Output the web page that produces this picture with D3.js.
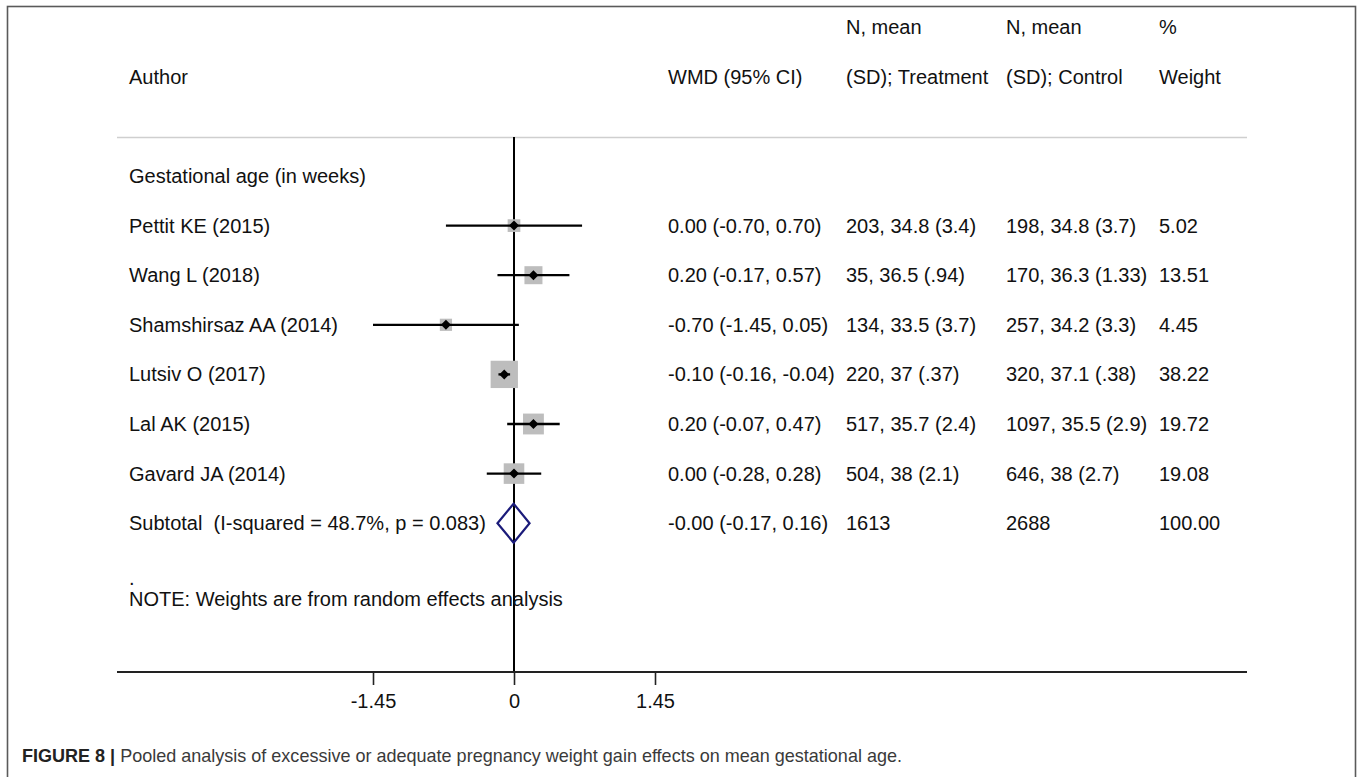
<!DOCTYPE html>
<html>
<head>
<meta charset="utf-8">
<script src="https://cdn.jsdelivr.net/npm/d3@7"></script>
<style>
  html, body { margin: 0; padding: 0; background: #fff; }
  svg { display: block; }
  text { white-space: pre; }
</style>
</head>
<body>
<div id="chart"></div>
<script>
// study data
const authors = ['Pettit KE (2015)', 'Wang L (2018)', 'Shamshirsaz AA (2014)', 'Lutsiv O (2017)', 'Lal AK (2015)', 'Gavard JA (2014)'];
const wmd = [0.00, 0.20, -0.70, -0.10, 0.20, 0.00];
const ciLow = [-0.70, -0.17, -1.45, -0.16, -0.07, -0.28];
const ciHigh = [0.70, 0.57, 0.05, -0.04, 0.47, 0.28];
const treatN = ['203', '35', '134', '220', '517', '504'];
const treatMean = ['34.8', '36.5', '33.5', '37', '35.7', '38'];
const treatSD = ['3.4', '.94', '3.7', '.37', '2.4', '2.1'];
const ctrlN = ['198', '170', '257', '320', '1097', '646'];
const ctrlMean = ['34.8', '36.3', '34.2', '37.1', '35.5', '38'];
const ctrlSD = ['3.7', '1.33', '3.3', '.38', '2.9', '2.7'];
const weights = [5.02, 13.51, 4.45, 38.22, 19.72, 19.08];

// pooled
const subtotal = { label: 'Subtotal  (I-squared = 48.7%, p = 0.083)', est: -0.004, lo: -0.17, hi: 0.16, nT: '1613', nC: '2688', w: 100.00 };
const groupLabel = 'Gestational age (in weeks)';
const noteText = 'NOTE: Weights are from random effects analysis';
const axisTicks = [-1.45, 0, 1.45];
const headTop = ['', '', 'N, mean', 'N, mean', '%'];
const headBottom = ['Author', 'WMD (95% CI)', '(SD); Treatment', '(SD); Control', 'Weight'];
const caption = 'Pooled analysis of excessive or adequate pregnancy weight gain effects on mean gestational age.';

const W = 1357, H = 777;
const svg = d3.select('#chart').append('svg').attr('width', W).attr('height', H);
const font = 'Liberation Sans, Arial, sans-serif';

// frame
svg.append('rect').attr('x', 7.5).attr('y', 6.5).attr('width', 1348).attr('height', 800)
  .attr('fill', 'none').attr('stroke', '#5a5a5a').attr('stroke-width', 1.6);

// scales
const x = d3.scaleLinear().domain([-1.45, 1.45]).range([373, 655]);
const row = d3.scaleLinear().domain([0, 1]).range([176, 225.6]); // row index -> y centre
const boxSize = d3.scaleLinear().domain([0, Math.sqrt(38.22)]).range([4.4, 27.3]);
const colX = [129, 668, 846, 1006, 1159];

const fmt = v => (v < 0 ? '-' : '') + Math.abs(v).toFixed(2);
const txt = (sel, s, xx, yc) => sel.append('text').text(s)
  .attr('x', xx).attr('y', yc + 7)
  .style('font-family', font).style('font-size', '20px').attr('fill', '#111');

// header
headTop.forEach((s, i) => { if (s) txt(svg, s, colX[i], row(-3)); });
headBottom.forEach((s, i) => txt(svg, s, colX[i], row(-2)));
svg.append('line').attr('x1', 117).attr('x2', 1247).attr('y1', 137.5).attr('y2', 137.5)
  .attr('stroke', '#cfcfcf').attr('stroke-width', 1.6);

// null line
svg.append('line').attr('x1', x(0)).attr('x2', x(0)).attr('y1', 137).attr('y2', row(10))
  .attr('stroke', '#000').attr('stroke-width', 2);

txt(svg, groupLabel, colX[0], row(0));

const studies = authors.map((a, i) => ({ a, i, est: wmd[i], lo: ciLow[i], hi: ciHigh[i], w: weights[i] }));

const g = svg.append('g').selectAll('g.study').data(studies).enter().append('g').attr('class', 'study');
g.append('rect')
  .attr('x', d => x(d.est) - boxSize(Math.sqrt(d.w)) / 2)
  .attr('y', d => row(d.i + 1) - boxSize(Math.sqrt(d.w)) / 2)
  .attr('width', d => boxSize(Math.sqrt(d.w)))
  .attr('height', d => boxSize(Math.sqrt(d.w)))
  .attr('fill', '#bdbdbd');
g.append('line')
  .attr('x1', d => x(d.lo)).attr('x2', d => x(d.hi))
  .attr('y1', d => row(d.i + 1)).attr('y2', d => row(d.i + 1))
  .attr('stroke', '#000').attr('stroke-width', 2.3);
g.append('path')
  .attr('d', d => {
    const cx = x(d.est), cy = row(d.i + 1), r = 5;
    return `M${cx - r},${cy}L${cx},${cy - r}L${cx + r},${cy}L${cx},${cy + r}Z`;
  })
  .attr('fill', '#000');

studies.forEach(d => {
  const yc = row(d.i + 1);
  txt(svg, d.a, colX[0], yc);
  txt(svg, `${fmt(d.est)} (${fmt(d.lo)}, ${fmt(d.hi)})`, colX[1], yc);
  txt(svg, `${treatN[d.i]}, ${treatMean[d.i]} (${treatSD[d.i]})`, colX[2], yc);
  txt(svg, `${ctrlN[d.i]}, ${ctrlMean[d.i]} (${ctrlSD[d.i]})`, colX[3], yc);
  txt(svg, d.w.toFixed(2), colX[4], yc);
});

// subtotal
const ys = row(7);
svg.append('path')
  .attr('d', `M${x(subtotal.lo)},${ys}L${x(subtotal.est)},${ys - 19.5}L${x(subtotal.hi)},${ys}L${x(subtotal.est)},${ys + 19.5}Z`)
  .attr('fill', 'none').attr('stroke', '#1b1b7a').attr('stroke-width', 2.2);
txt(svg, subtotal.label, colX[0], ys);
txt(svg, `-0.00 (${fmt(subtotal.lo)}, ${fmt(subtotal.hi)})`, colX[1], ys);
txt(svg, subtotal.nT, colX[2], ys);
txt(svg, subtotal.nC, colX[3], ys);
txt(svg, subtotal.w.toFixed(2), colX[4], ys);

txt(svg, '.', colX[0], row(8.1));
txt(svg, noteText, colX[0], row(8.52));

// axis
const yAxis = row(10);
svg.append('line').attr('x1', 117).attr('x2', 1247).attr('y1', yAxis).attr('y2', yAxis)
  .attr('stroke', '#222').attr('stroke-width', 2);
const ax = svg.append('g').attr('transform', `translate(0,${yAxis})`)
  .call(d3.axisBottom(x).tickValues(axisTicks).tickSize(13).tickPadding(9)
    .tickFormat(v => v === 0 ? '0' : (v < 0 ? '-' : '') + Math.abs(v).toFixed(2)));
ax.select('.domain').remove();
ax.selectAll('.tick line').attr('stroke', '#222').attr('stroke-width', 1.6);
ax.selectAll('.tick text').style('font-family', font).style('font-size', '20px').attr('fill', '#111');

// caption
const cap = svg.append('text').attr('x', 22).attr('y', 762)
  .style('font-family', font).style('font-size', '19px').attr('fill', '#3a3a3a');
cap.append('tspan').text('FIGURE 8 | ').style('font-weight', 'bold').attr('fill', '#222');
cap.append('tspan').text(caption);
cap.attr('textLength', 880).attr('lengthAdjust', 'spacingAndGlyphs');
</script>
</body>
</html>
